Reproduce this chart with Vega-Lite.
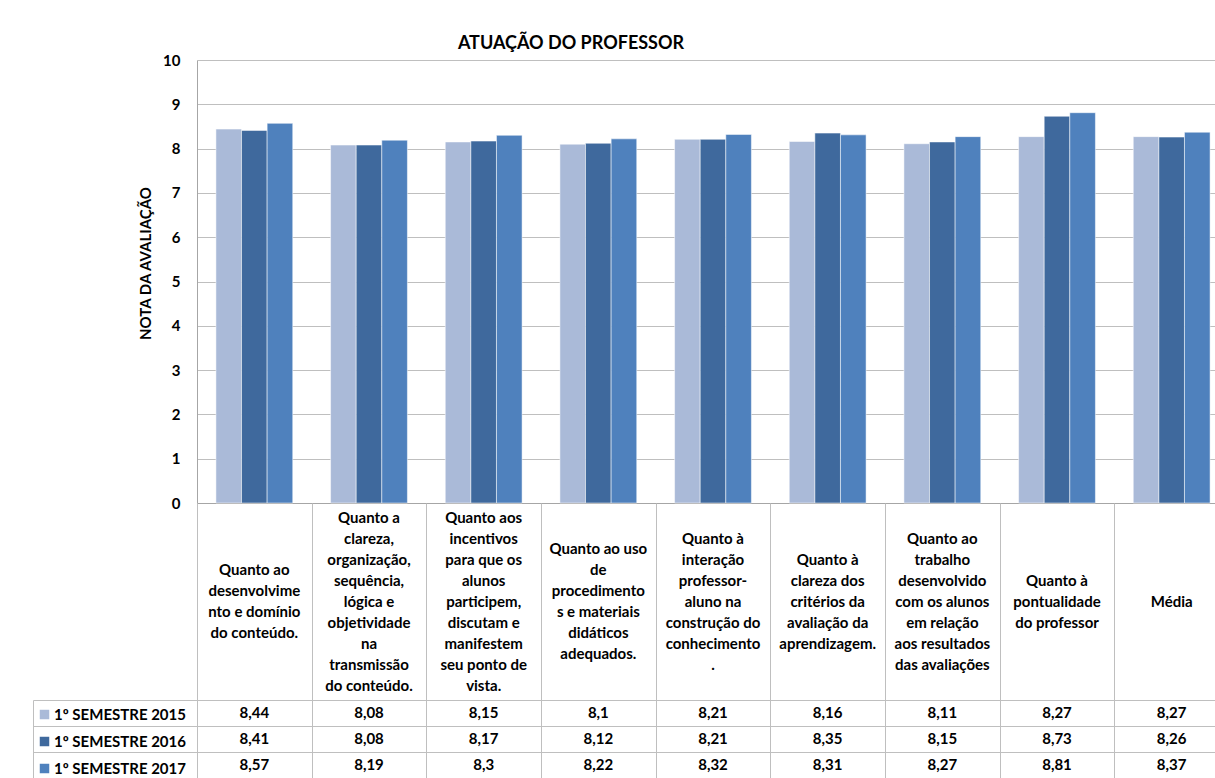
{
  "$schema": "https://vega.github.io/schema/vega-lite/v6.json",
  "padding": {"left": 32, "top": 35, "right": 0, "bottom": 0},
  "bounds": "flush",
  "spacing": 0,
  "config": {
    "view": {"stroke": null},
    "font": "Lato",
    "locale": {"number": {"decimal": ",", "thousands": ".", "grouping": [3], "currency": ["", ""]}}
  },
  "datasets": {
    "rows": [
      {"cat": "Quanto ao\ndesenvolvime\nnto e domínio\ndo conteúdo.", "series": "1º SEMESTRE 2015", "value": 8.44},
      {"cat": "Quanto ao\ndesenvolvime\nnto e domínio\ndo conteúdo.", "series": "1º SEMESTRE 2016", "value": 8.41},
      {"cat": "Quanto ao\ndesenvolvime\nnto e domínio\ndo conteúdo.", "series": "1º SEMESTRE 2017", "value": 8.57},
      {"cat": "Quanto a\nclareza,\norganização,\nsequência,\nlógica e\nobjetividade\nna\ntransmissão\ndo conteúdo.", "series": "1º SEMESTRE 2015", "value": 8.08},
      {"cat": "Quanto a\nclareza,\norganização,\nsequência,\nlógica e\nobjetividade\nna\ntransmissão\ndo conteúdo.", "series": "1º SEMESTRE 2016", "value": 8.08},
      {"cat": "Quanto a\nclareza,\norganização,\nsequência,\nlógica e\nobjetividade\nna\ntransmissão\ndo conteúdo.", "series": "1º SEMESTRE 2017", "value": 8.19},
      {"cat": "Quanto aos\nincentivos\npara que os\nalunos\nparticipem,\ndiscutam e\nmanifestem\nseu ponto de\nvista.", "series": "1º SEMESTRE 2015", "value": 8.15},
      {"cat": "Quanto aos\nincentivos\npara que os\nalunos\nparticipem,\ndiscutam e\nmanifestem\nseu ponto de\nvista.", "series": "1º SEMESTRE 2016", "value": 8.17},
      {"cat": "Quanto aos\nincentivos\npara que os\nalunos\nparticipem,\ndiscutam e\nmanifestem\nseu ponto de\nvista.", "series": "1º SEMESTRE 2017", "value": 8.3},
      {"cat": "Quanto ao uso\nde\nprocedimento\ns e materiais\ndidáticos\nadequados.", "series": "1º SEMESTRE 2015", "value": 8.1},
      {"cat": "Quanto ao uso\nde\nprocedimento\ns e materiais\ndidáticos\nadequados.", "series": "1º SEMESTRE 2016", "value": 8.12},
      {"cat": "Quanto ao uso\nde\nprocedimento\ns e materiais\ndidáticos\nadequados.", "series": "1º SEMESTRE 2017", "value": 8.22},
      {"cat": "Quanto à\ninteração\nprofessor-\naluno na\nconstrução do\nconhecimento\n.", "series": "1º SEMESTRE 2015", "value": 8.21},
      {"cat": "Quanto à\ninteração\nprofessor-\naluno na\nconstrução do\nconhecimento\n.", "series": "1º SEMESTRE 2016", "value": 8.21},
      {"cat": "Quanto à\ninteração\nprofessor-\naluno na\nconstrução do\nconhecimento\n.", "series": "1º SEMESTRE 2017", "value": 8.32},
      {"cat": "Quanto à\nclareza dos\ncritérios da\navaliação da\naprendizagem.", "series": "1º SEMESTRE 2015", "value": 8.16},
      {"cat": "Quanto à\nclareza dos\ncritérios da\navaliação da\naprendizagem.", "series": "1º SEMESTRE 2016", "value": 8.35},
      {"cat": "Quanto à\nclareza dos\ncritérios da\navaliação da\naprendizagem.", "series": "1º SEMESTRE 2017", "value": 8.31},
      {"cat": "Quanto ao\ntrabalho\ndesenvolvido\ncom os alunos\nem relação\naos resultados\ndas avaliações", "series": "1º SEMESTRE 2015", "value": 8.11},
      {"cat": "Quanto ao\ntrabalho\ndesenvolvido\ncom os alunos\nem relação\naos resultados\ndas avaliações", "series": "1º SEMESTRE 2016", "value": 8.15},
      {"cat": "Quanto ao\ntrabalho\ndesenvolvido\ncom os alunos\nem relação\naos resultados\ndas avaliações", "series": "1º SEMESTRE 2017", "value": 8.27},
      {"cat": "Quanto à\npontualidade\ndo professor", "series": "1º SEMESTRE 2015", "value": 8.27},
      {"cat": "Quanto à\npontualidade\ndo professor", "series": "1º SEMESTRE 2016", "value": 8.73},
      {"cat": "Quanto à\npontualidade\ndo professor", "series": "1º SEMESTRE 2017", "value": 8.81},
      {"cat": "Média", "series": "1º SEMESTRE 2015", "value": 8.27},
      {"cat": "Média", "series": "1º SEMESTRE 2016", "value": 8.26},
      {"cat": "Média", "series": "1º SEMESTRE 2017", "value": 8.37}
    ]
  },
  "data": {"name": "rows"},
  "resolve": {
    "scale": {"x": "independent", "y": "independent", "color": "independent"},
    "legend": {"color": "independent"}
  },
  "vconcat": [
    {
      "width": 1032,
      "height": 443,
      "title": {"text": "ATUAÇÃO DO PROFESSOR", "fontSize": 18, "fontWeight": "bold", "color": "black", "anchor": "middle", "frame": "group", "dx": -142, "offset": 0},
      "mark": {"type": "bar", "stroke": "#FFFFFF", "strokeOpacity": 0.5, "strokeWidth": 1},
      "encoding": {
        "x": {"field": "cat", "type": "nominal", "sort": null,
          "scale": {"paddingInner": 0.33, "paddingOuter": 0.165},
          "axis": {"labels": false, "ticks": false, "title": null, "domain": true, "domainColor": "#A6A6A6", "grid": false}},
        "xOffset": {"field": "series", "type": "nominal", "sort": null},
        "y": {"field": "value", "type": "quantitative",
          "scale": {"domain": [0, 10], "nice": false},
          "axis": {"values": [0, 1, 2, 3, 4, 5, 6, 7, 8, 9, 10], "format": "d", "ticks": false, "labelPadding": 17,
            "labelFontSize": 15, "labelFontWeight": "bold", "labelColor": "black",
            "domainColor": "#A6A6A6", "gridColor": "#BFBFBF",
            "title": "NOTA DA AVALIAÇÃO", "titleFontSize": 15, "titleFontWeight": "bold", "titleColor": "black",
            "titleX": -52, "titleY": 203, "titleBaseline": "middle", "titleAngle": -90}},
        "color": {"field": "series", "type": "nominal", "sort": null,
          "scale": {"range": ["#AABAD8", "#3F699D", "#4F81BD"]}, "legend": null}
      }
    },
    {
      "width": 1032,
      "height": 197,
      "transform": [{"filter": "datum.series == '1º SEMESTRE 2015'"}],
      "mark": {"type": "text", "lineBreak": "\n", "fontSize": 15, "fontWeight": "bold", "lineHeight": 21, "baseline": "middle", "align": "center", "color": "black",
        "dy": {"expr": "-(split(datum.cat, '\\n').length - 1) * 10.5"}},
      "encoding": {
        "x": {"field": "cat", "type": "nominal", "sort": null, "scale": {"padding": 0},
          "axis": {"orient": "top", "labels": false, "ticks": false, "title": null, "domain": false, "grid": true, "tickBand": "extent", "gridColor": "#BFBFBF"}},
        "text": {"field": "cat", "type": "nominal"}
      }
    },
    {
      "width": 1032,
      "height": 78,
      "resolve": {"axis": {"y": "independent"}},
      "layer": [
        {
          "mark": {"type": "text", "fontSize": 15, "fontWeight": "bold", "color": "black", "baseline": "middle", "align": "center"},
          "encoding": {
            "x": {"field": "cat", "type": "nominal", "sort": null, "scale": {"padding": 0},
              "axis": {"orient": "top", "labels": false, "ticks": false, "title": null, "domain": false, "grid": true, "tickBand": "extent", "gridColor": "#BFBFBF"}},
            "y": {"field": "series", "type": "nominal", "sort": null, "scale": {"padding": 0},
              "axis": {"orient": "left", "labels": false, "ticks": true, "tickBand": "extent", "tickSize": 164, "tickColor": "#BFBFBF", "title": null, "domain": true, "domainColor": "#BFBFBF", "grid": true, "gridColor": "#BFBFBF"}},
            "text": {"field": "value", "type": "quantitative", "format": ".3~g"}
          }
        },
        {
          "mark": {"type": "square", "opacity": 0},
          "encoding": {
            "x": {"field": "cat", "type": "nominal", "sort": null, "scale": {"padding": 0},
              "axis": {"orient": "top", "labels": false, "ticks": false, "title": null, "domain": false, "grid": true, "tickBand": "extent", "gridColor": "#BFBFBF"}},
            "y": {"field": "series", "type": "nominal", "sort": null, "scale": {"padding": 0},
              "axis": {"orient": "left", "offset": 164, "labels": false, "ticks": false, "title": null, "domain": true, "domainColor": "#BFBFBF", "grid": false}},
            "color": {"field": "series", "type": "nominal", "sort": null,
              "scale": {"range": ["#AABAD8", "#3F699D", "#4F81BD"]},
              "legend": {"orient": "none", "legendX": -160, "legendY": 7, "title": null, "symbolType": "square", "symbolSize": 90, "symbolOpacity": 1, "symbolStrokeWidth": 0,
                "labelFontSize": 15, "labelFontWeight": "bold", "labelColor": "black", "rowPadding": 11, "padding": 0, "labelOffset": 2}}
          }
        }
      ]
    }
  ]
}
